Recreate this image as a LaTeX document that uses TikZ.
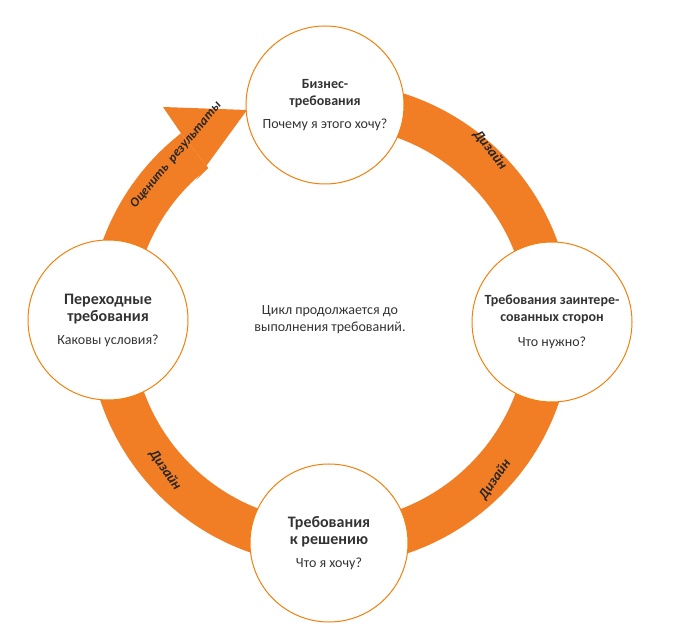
\documentclass[tikz,border=0pt]{standalone}
\usepackage{fontspec}
\setmainfont{Carlito}
\begin{document}
\begin{tikzpicture}[x=1pt,y=1pt,
  txt/.style={text=black!80},
  circ/.style={circle,draw=orange!80!brown,line width=1pt,fill=white,minimum size=158pt,align=center,text=black!80,font=\fontsize{14}{17}\selectfont},
  lab/.style={text=black!85,font=\fontsize{14}{16}\selectfont\bfseries\itshape}]
\definecolor{or}{RGB}{241,125,36}
\useasboundingbox (0,0) rectangle (675,629);
\coordinate (c) at (330,305);
\fill[or] ([shift={(128:242)}]c) arc[start angle=128,end angle=450,radius=242]
  -- ([shift={(90:198)}]c) arc[start angle=450,end angle=128,radius=198] -- cycle;
\fill[or] ([shift={(128:198)}]c) -- (196,449) -- (247,519) -- (163,522) -- ([shift={(128:242)}]c) -- cycle;
\node[circ] (top) at (325,524) {\textbf{Бизнес-}\\\textbf{требования}\\[6pt]Почему я этого хочу?};
\node[circ,minimum size=160pt] (right) at (552,307) {\textbf{Требования заинтере-}\\\textbf{сованных сторон}\\[8pt]Что нужно?};
\node[circ] (bottom) at (329,86) {\textbf{\fontsize{16}{19}\selectfont Требования}\\\textbf{\fontsize{16}{19}\selectfont к решению}\\[6pt]Что я хочу?};
\node[circ,minimum size=160pt] (left) at (108,309) {\textbf{\fontsize{16}{19}\selectfont Переходные}\\\textbf{\fontsize{16}{19}\selectfont требования}\\[6pt]Каковы условия?};
\node[txt,align=center,font=\fontsize{14}{17}\selectfont] (mid) at (330,309) {Цикл продолжается до\\выполнения требований.};
\node[lab,rotate=-52] (d1) at (490,479) {Дизайн};
\node[lab,rotate=55] (d2) at (495,149) {Дизайн};
\node[lab,rotate=-55] (d3) at (165,159) {Дизайн};
\node[lab,rotate=50,font=\fontsize{13}{15}\selectfont\bfseries\itshape] (ev) at (176,474) {Оценить\ \ результаты};
\end{tikzpicture}
\end{document}
